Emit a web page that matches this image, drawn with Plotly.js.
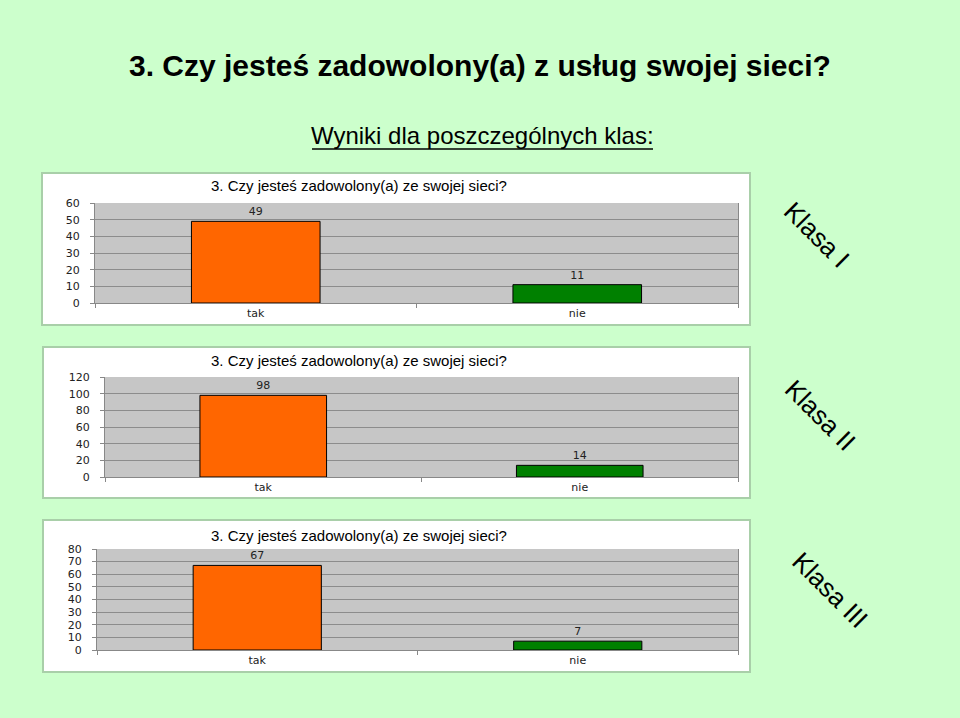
<!DOCTYPE html>
<html><head><meta charset="utf-8">
<script src="https://cdn.plot.ly/plotly-3.0.1.min.js"></script>
<style>html,body{margin:0;padding:0;background:#ccffcc;}</style>
</head><body>
<div id="chart" style="width:960px;height:718px;"></div>
<script>
const categories = ["tak", "nie"];
const klasa1 = [49, 11];
const klasa2 = [98, 14];
const klasa3 = [67, 7];
const classLabels = ["Klasa I", "Klasa II", "Klasa III"];
const yMax = [60, 120, 80];
const yStep = [10, 20, 10];
const subTitle = "3. Czy jesteś zadowolony(a) ze swojej sieci?";
const mainTitle = "3. Czy jesteś zadowolony(a) z usług swojej sieci?";
const subHeading = "Wyniki dla poszczególnych klas:";

const series = [klasa1, klasa2, klasa3];
const barColors = ["#ff6600", "#008000"];
const W = 960, H = 718;
const px = v => v / W, py = v => 1 - v / H;

// plot areas in pixels [x0,x1,yTop,yBottom]
const plots = [[95, 738, 203, 303], [105, 738, 377, 477], [97, 738, 549, 650]];
const boxes = [[42, 750, 173, 325], [43, 750, 347, 498], [43, 750, 520, 672]];
const titleY = [185, 360, 535];
const classPos = [[817, 235], [820, 415], [830, 590]];

const font = "Liberation Sans, Arial, sans-serif";
const tickFont = "DejaVu Sans, Verdana, sans-serif";
const traces = [];
const layout = {
  width: W, height: H,
  margin: {l: 0, r: 0, t: 0, b: 0},
  paper_bgcolor: "#ccffcc",
  showlegend: false,
  bargap: 0.6,
  font: {family: font, color: "#000"},
  shapes: [], annotations: []
};

series.forEach((vals, i) => {
  const ax = i === 0 ? "" : String(i + 1);
  traces.push({
    type: "bar", x: categories, y: vals,
    xaxis: "x" + ax, yaxis: "y" + ax,
    marker: {color: barColors, line: {color: "#000", width: 1}},
    text: vals.map(String), textposition: "outside",
    textfont: {family: tickFont, size: 11, color: "#222"},
    cliponaxis: false, hoverinfo: "skip"
  });
  const p = plots[i];
  layout["xaxis" + ax] = {
    domain: [px(p[0]), px(p[1])], anchor: "y" + ax,
    type: "category", tickson: "boundaries", ticks: "outside", ticklen: 4,
    tickcolor: "#888", showgrid: false, showline: true, linecolor: "#888",
    tickfont: {family: tickFont, size: 11, color: "#222"}, fixedrange: true
  };
  layout["yaxis" + ax] = {
    domain: [py(p[3]), py(p[2])], anchor: "x" + ax,
    range: [0, yMax[i]], dtick: yStep[i], tick0: 0,
    showgrid: true, gridcolor: "#8c8c8c", gridwidth: 1,
    ticks: "outside", ticklen: 4, tickcolor: "#888",
    ticklabelstandoff: 8,
    showline: true, linecolor: "#888", mirror: true, zeroline: false,
    tickfont: {family: tickFont, size: 11, color: "#222"}, fixedrange: true
  };
  const b = boxes[i];
  layout.shapes.push({type: "rect", xref: "paper", yref: "paper", layer: "below",
    x0: px(b[0]), x1: px(b[1]), y0: py(b[3]), y1: py(b[2]),
    fillcolor: "#ffffff", line: {color: "#a9cfa9", width: 2}});
  layout.shapes.push({type: "rect", xref: "paper", yref: "paper", layer: "below",
    x0: px(p[0]), x1: px(p[1]), y0: py(p[3]), y1: py(p[2]),
    fillcolor: "#c6c6c6", line: {width: 0}});
  layout.annotations.push({xref: "paper", yref: "paper", x: px(359), y: py(titleY[i]),
    text: subTitle, showarrow: false, xanchor: "center", yanchor: "middle",
    font: {family: font, size: 15, color: "#000"}});
  layout.annotations.push({xref: "paper", yref: "paper", x: px(classPos[i][0]), y: py(classPos[i][1]),
    text: classLabels[i], showarrow: false, textangle: 45, xanchor: "center", yanchor: "middle",
    font: {family: font, size: 26, color: "#000"}});
});

layout.annotations.push({xref: "paper", yref: "paper", x: px(480), y: py(66),
  text: "<b>" + mainTitle + "</b>", showarrow: false, xanchor: "center", yanchor: "middle",
  font: {family: font, size: 30, color: "#000"}});
layout.annotations.push({xref: "paper", yref: "paper", x: px(482), y: py(135),
  text: subHeading, showarrow: false, xanchor: "center", yanchor: "middle",
  font: {family: font, size: 24, color: "#000"}});
layout.shapes.push({type: "line", xref: "paper", yref: "paper",
  x0: px(312), x1: px(653), y0: py(149), y1: py(149), line: {color: "#000", width: 1.5}});

Plotly.newPlot("chart", traces, layout, {displayModeBar: false, staticPlot: true});
</script>
</body></html>
